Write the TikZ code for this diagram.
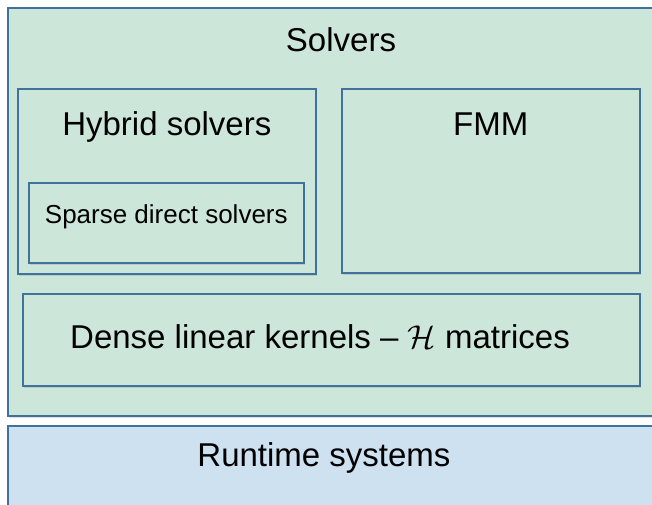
\documentclass[tikz,border=0pt]{standalone}
\usepackage{fix-cm}
\usepackage{fontspec}
\setmainfont{Liberation Sans}
\usetikzlibrary{shadows}

\definecolor{stackgreen}{HTML}{CDE6DA}
\definecolor{stackblue}{HTML}{CDE1F1}
\definecolor{stackline}{HTML}{41729E}

\begin{document}
\begin{tikzpicture}[x=1pt, y=-1pt,
	layerbox/.style={draw=stackline, line width=1.6pt, fill=stackgreen, inner sep=0pt,
		anchor=north west, drop shadow={shadow xshift=1pt, shadow yshift=-2pt, opacity=.25}},
	bigtext/.style={font=\fontsize{33}{40}\selectfont, anchor=base, inner sep=0pt},
	smalltext/.style={font=\fontsize{26}{31}\selectfont, anchor=base, inner sep=0pt}]
	\useasboundingbox (0,0) rectangle (652,505);
	\clip (0,0) rectangle (652,505);
	% outer layers
	\node[layerbox, fill=stackblue, minimum width=680pt, minimum height=110pt] (runtime) at (7,425) {};
	\node[layerbox, minimum width=680pt, minimum height=408pt] (solvers) at (7,7) {};
	% inner blocks
	\node[layerbox, minimum width=298pt, minimum height=185pt] (hybrid) at (17,88) {};
	\node[layerbox, minimum width=275pt, minimum height=80pt] (sparse) at (28,182) {};
	\node[layerbox, minimum width=298pt, minimum height=184pt] (fmm) at (341,88) {};
	\node[layerbox, minimum width=617pt, minimum height=92pt] (dense) at (22,293) {};
	% labels
	\node[bigtext] (solverslbl) at (341,52) {Solvers};
	\node[bigtext] (hybridlbl) at (hybrid.north |- 0,136) {Hybrid solvers};
	\node[bigtext] (fmmlbl) at (fmm.north |- 0,136) {FMM};
	\node[smalltext] (sparselbl) at (sparse.north |- 0,223) {Sparse direct solvers};
	\node[bigtext] (denselbl) at (320,348) {Dense linear kernels -- $\mathcal{H}$ matrices};
	\node[bigtext] (runtimelbl) at (324,466) {Runtime systems};
\end{tikzpicture}
\end{document}
